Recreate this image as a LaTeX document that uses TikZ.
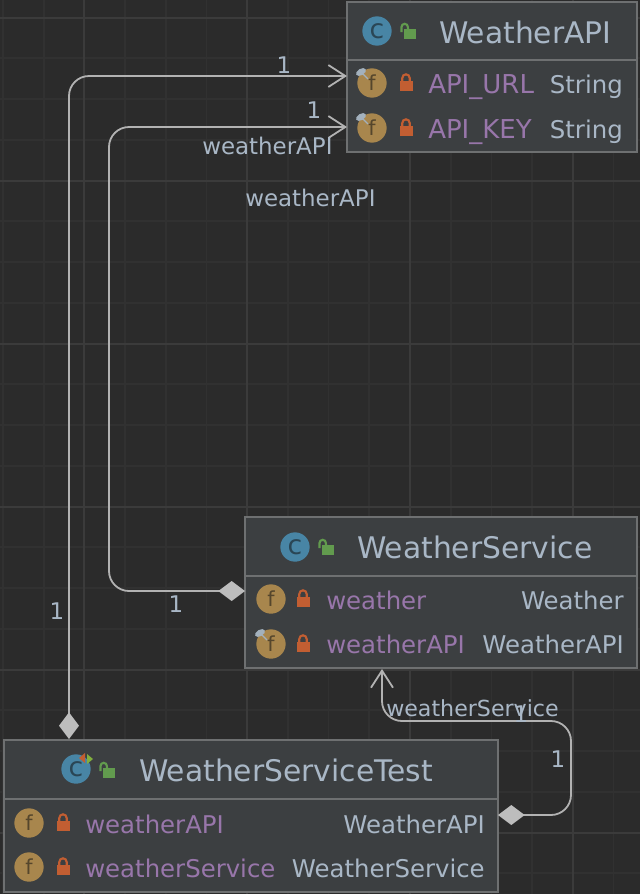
\documentclass[tikz,border=0pt]{standalone}
\usepackage{fontspec}
\setmainfont{DejaVu Sans}
\usetikzlibrary{arrows.meta, positioning}

\definecolor{canvasbg}{HTML}{2B2B2B}
\definecolor{gridminor}{HTML}{313131}
\definecolor{gridmajor}{HTML}{3B3B3B}
\definecolor{boxfill}{HTML}{3C3F41}
\definecolor{boxline}{HTML}{6E7071}
\definecolor{wireline}{HTML}{B2B2B2}
\definecolor{tipfill}{HTML}{BDBDBD}
\definecolor{titletext}{HTML}{A9B7C6}
\definecolor{fieldtext}{HTML}{9876AA}
\definecolor{classblue}{HTML}{4885A5}
\definecolor{classdark}{HTML}{2A4655}
\definecolor{fieldgold}{HTML}{A8864D}
\definecolor{fielddark}{HTML}{55462C}
\definecolor{lockred}{HTML}{C25E32}
\definecolor{lockgreen}{HTML}{629B4E}
\definecolor{pingray}{HTML}{A3B1BD}

\tikzset{
    headbox/.style = {draw=boxline, fill=boxfill, line width=1.5pt, anchor=north west, inner sep=0pt, outer sep=0pt},
    bodybox/.style = {headbox, minimum height=69pt},
    classicon/.style = {circle, fill=classblue, text=classdark, minimum size=22pt, inner sep=0pt,
        font=\fontsize{20}{20}\selectfont},
    fieldicon/.style = {circle, fill=fieldgold, text=fielddark, minimum size=22pt, inner sep=0pt,
        font=\fontsize{15.5}{15.5}\selectfont},
    titlename/.style = {anchor=base west, inner sep=0pt, text=titletext, font=\fontsize{22.3}{26}\selectfont},
    fieldname/.style = {anchor=base west, inner sep=0pt, text=fieldtext, font=\fontsize{18.3}{22}\selectfont},
    typename/.style = {anchor=base east, inner sep=0pt, text=titletext, font=\fontsize{18.3}{22}\selectfont},
    wirelabel/.style = {inner sep=0pt, text=titletext, font=\fontsize{17.2}{20}\selectfont},
    wire/.style = {draw=wireline, line width=1.35pt, rounded corners=15pt},
    pics/lockshut/.style = {code={
        \fill[lockred] (-6.5,-2) rectangle (6.5,8);
        \draw[lockred, line width=1.6pt] (-3.7,-2) -- (-3.7,-5) arc (180:360:3.7) -- (3.7,-2);}},
    pics/lockopen/.style = {code={
        \fill[lockgreen] (-4,0) rectangle (8,10);
        \draw[lockgreen, line width=1.6pt] (-6.5,3) -- (-6.5,-2) arc (180:360:3.2) -- (0,1);}},
    pics/fieldpin/.style = {code={
        \draw[pingray, line width=1pt] (0,0) -- (7,7);
        \fill[pingray, rotate=30] (0,0) ellipse (5.5 and 3.2);}}
}

\begin{document}
\begin{tikzpicture} [x=0.75pt, y=-0.75pt, on grid]
    \useasboundingbox (0,0) rectangle (640,894);
    \fill [canvasbg] (0,0) rectangle (640,894);

    % grid
    \foreach \col in {0,...,15}
        \draw [gridminor, line width=1.3pt] (3+40.7*\col,0) -- (3+40.7*\col,894);
    \foreach \row in {0,...,21}
        \draw [gridminor, line width=1.3pt] (0,17.5+40.75*\row) -- (640,17.5+40.75*\row);
    \foreach \col in {0,...,3}
        \draw [gridmajor, line width=1.5pt] (84.4+162.8*\col,0) -- (84.4+162.8*\col,894);
    \foreach \row in {0,...,5}
        \draw [gridmajor, line width=1.5pt] (0,17.5+163*\row) -- (640,17.5+163*\row);

    % WeatherAPI
    \node (apihead) [headbox, minimum width=217.5pt, minimum height=43.5pt] at (347,2) {};
    \node (apibody) [bodybox, minimum width=217.5pt] at (apihead.south west) {};
    \node (apiclass) [classicon] at (377,31) {c};
    \pic at (408,29) {lockopen};
    \node (apititle) [titlename] at (439,43) {WeatherAPI};
    \node (urlicon) [fieldicon] at (372,83) {f};
    \pic at (361,72) {fieldpin};
    \pic [right = 25.5pt of urlicon] {lockshut};
    \node (urlname) [fieldname, font=\fontsize{19.5}{22}\selectfont] at (428,93) {API\_URL};
    \node (urltype) [typename] at (623,93) {String};
    \node (keyicon) [fieldicon] at (372,128) {f};
    \pic at (361,117) {fieldpin};
    \pic [right = 25.5pt of keyicon] {lockshut};
    \node (keyname) [fieldname, font=\fontsize{19.5}{22}\selectfont] at (428,138) {API\_KEY};
    \node (keytype) [typename] at (623,138) {String};

    % WeatherService
    \node (svchead) [headbox, minimum width=294pt, minimum height=44pt] at (245,517) {};
    \node (svcbody) [bodybox, minimum height=69.5pt, minimum width=294pt] at (svchead.south west) {};
    \node (svcclass) [classicon] at (295,547) {c};
    \pic at (326,545) {lockopen};
    \node (svctitle) [titlename] at (357,558) {WeatherService};
    \node (weathericon) [fieldicon] at (271,599) {f};
    \pic [right = 24pt of weathericon] {lockshut};
    \node (weathername) [fieldname] at (326,609) {weather};
    \node (weathertype) [typename] at (624,609) {Weather};
    \node (svcapiicon) [fieldicon] at (271,644) {f};
    \pic at (260,633) {fieldpin};
    \pic [right = 24pt of svcapiicon] {lockshut};
    \node (svcapiname) [fieldname] at (326,653) {weatherAPI};
    \node (svcapitype) [typename] at (624,653) {WeatherAPI};

    % WeatherServiceTest
    \node (testhead) [headbox, minimum width=370.5pt, minimum height=44.5pt] at (4,740) {};
    \node (testbody) [bodybox, minimum height=69.5pt, minimum width=370.5pt] at (testhead.south west) {};
    \node (testclass) [classicon] at (76,769) {c};
    \fill [lockred] (85,753) -- (85,763) -- (79,758) -- cycle;
    \fill [lockgreen!80!yellow] (87,754) -- (87,764) -- (93,759) -- cycle;
    \pic at (107,768) {lockopen};
    \node (testtitle) [titlename] at (139,781) {WeatherServiceTest};
    \node (testapiicon) [fieldicon] at (29,823) {f};
    \pic [right = 25.5pt of testapiicon] {lockshut};
    \node (testapiname) [fieldname] at (85,833) {weatherAPI};
    \node (testapitype) [typename] at (485,833) {WeatherAPI};
    \node (testsvcicon) [fieldicon] at (29,867) {f};
    \pic [right = 25.5pt of testsvcicon] {lockshut};
    \node (testsvcname) [fieldname] at (85,877) {weatherService};
    \node (testsvctype) [typename] at (485,877) {WeatherService};

    % connector ends
    \coordinate (urlport) at (347,76);
    \coordinate (keyport) at (347,127);
    \coordinate (testtop) at (69,739);
    \coordinate (svcleft) at (245,591);
    \coordinate (bendkey) at (109,127);
    \coordinate (testright) at (498,815);
    \coordinate (bendsvc) at (571,721);
    \coordinate (svcfoot) at (382,669);

    \path [wire, {Diamond[length=20pt,width=15pt,color=tipfill]}-{Straight Barb[length=12.75pt,width=16.5pt]}]
        (testtop) |- (urlport);
    \path [wire, {Diamond[length=20pt,width=15pt,color=tipfill]}-{Straight Barb[length=12.75pt,width=16.5pt]}]
        (svcleft) -| (bendkey) -- (keyport);
    \path [wire, {Diamond[length=20pt,width=15pt,color=tipfill]}-{Straight Barb[length=12.75pt,width=16.5pt]}]
        (testright) -| (bendsvc) -| (svcfoot);

    % labels
    \node (urlone) [wirelabel] at (284,65) {1};
    \node (keyone) [wirelabel] at (314,110) {1};
    \node (keylabel) [wirelabel, anchor=base west] at (202,154) {weatherAPI};
    \node (urllabel) [wirelabel, anchor=base west] at (245,206) {weatherAPI};
    \node (svcone) [wirelabel] at (176,604) {1};
    \node (testone) [wirelabel] at (57,611) {1};
    \node (svclabel) [wirelabel, anchor=base west, font=\fontsize{16.6}{20}\selectfont] at (386,716) {weatherService};
    \node (footone) [wirelabel] at (521,714) {1};
    \node (rightone) [wirelabel] at (558,759) {1};
\end{tikzpicture}
\end{document}
